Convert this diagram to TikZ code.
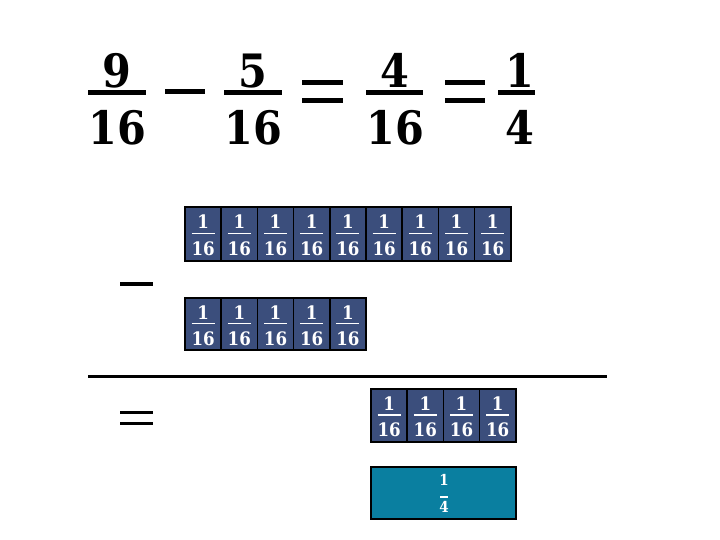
\documentclass[tikz,border=0pt]{standalone}
\usepackage{fontspec}
\setmainfont{DejaVu Serif Condensed}
\definecolor{tile}{RGB}{59,78,124}
\definecolor{teal1}{RGB}{10,127,160}
\tikzset{
  x=1pt,y=-1pt,
  bigdig/.style={font=\fontsize{46}{46}\selectfont\bfseries, inner sep=0pt, anchor=base},
  smalldig/.style={font=\fontsize{18.5}{18.5}\selectfont\bfseries, text=white, inner sep=0pt, anchor=base},
  tealdig/.style={font=\fontsize{15}{15}\selectfont\bfseries, text=white, inner sep=0pt, anchor=base},
  bigbar/.style={line width=5pt},
  tilebox/.style={draw=black, line width=1.5pt, fill=tile, minimum width=36pt, minimum height=53pt, inner sep=0pt},
  tealbox/.style={draw=black, line width=1.5pt, fill=teal1, minimum width=145pt, minimum height=52pt, inner sep=0pt},
  whitebar/.style={draw=white, line width=1.2pt},
  opbar/.style={line width=3.5pt}
}
\begin{document}
\begin{tikzpicture}
\useasboundingbox (0,0) rectangle (720,540);
% top equation
\node[bigdig] (n1) at (117,88) {9};
\node[bigdig] (d1) at (117,145) {16};
\draw[bigbar] (88,93) -- (146,93);
\draw[bigbar] (165,92) -- (205,92);
\node[bigdig] (n2) at (253,88) {5};
\node[bigdig] (d2) at (253,145) {16};
\draw[bigbar] (224,93) -- (282,93);
\draw[bigbar] (302,82.5) -- (343,82.5);
\draw[bigbar] (302,100.5) -- (343,100.5);
\node[bigdig] (n3) at (395,88) {4};
\node[bigdig] (d3) at (395,145) {16};
\draw[bigbar] (366,93) -- (423,93);
\draw[bigbar] (445,82.5) -- (485,82.5);
\draw[bigbar] (445,100.5) -- (485,100.5);
\node[bigdig] (n4) at (520,88) {1};
\node[bigdig] (d4) at (520,145) {4};
\draw[bigbar] (498,93) -- (535,93);
% row 1: nine tiles
\foreach \i in {0,...,8}{
  \node[tilebox] (a\i) at ({203.1+36.2*\i},234) {};
  \node[smalldig] (an\i) at ({203.1+36.2*\i},229) {1};
  \draw[whitebar] ({191.6+36.2*\i},233.5) -- ({214.6+36.2*\i},233.5);
  \node[smalldig] (ad\i) at ({203.1+36.2*\i},255) {16};
}
\draw[line width=2pt] (185,207) rectangle (511,261);
% row 2: five tiles
\foreach \i in {0,...,4}{
  \node[tilebox] (b\i) at ({203.1+36.2*\i},324) {};
  \node[smalldig] (bn\i) at ({203.1+36.2*\i},319) {1};
  \draw[whitebar] ({191.6+36.2*\i},323.5) -- ({214.6+36.2*\i},323.5);
  \node[smalldig] (bd\i) at ({203.1+36.2*\i},345) {16};
}
\draw[line width=2pt] (185,298) rectangle (366,350);
% row 3: four tiles
\foreach \i in {0,...,3}{
  \node[tilebox] (c\i) at ({389.1+36.2*\i},415.5) {};
  \node[smalldig] (cn\i) at ({389.1+36.2*\i},410.5) {1};
  \draw[whitebar] ({377.6+36.2*\i},415) -- ({400.6+36.2*\i},415);
  \node[smalldig] (cd\i) at ({389.1+36.2*\i},436.5) {16};
}
\draw[line width=2pt] (371,389) rectangle (516,442);
% teal box
\node[tealbox] (q) at (443.5,493) {};
\node[tealdig] (qn) at (444,485) {1};
\draw[whitebar] (440,497) -- (448,497);
\node[tealdig] (qd) at (444,512) {4};
% operators and rule
\draw[opbar] (120,284) -- (153,284);
\draw[line width=3pt] (88,376.5) -- (607,376.5);
\draw[opbar] (120,412.5) -- (153,412.5);
\draw[opbar] (120,423.5) -- (153,423.5);
\end{tikzpicture}
\end{document}
